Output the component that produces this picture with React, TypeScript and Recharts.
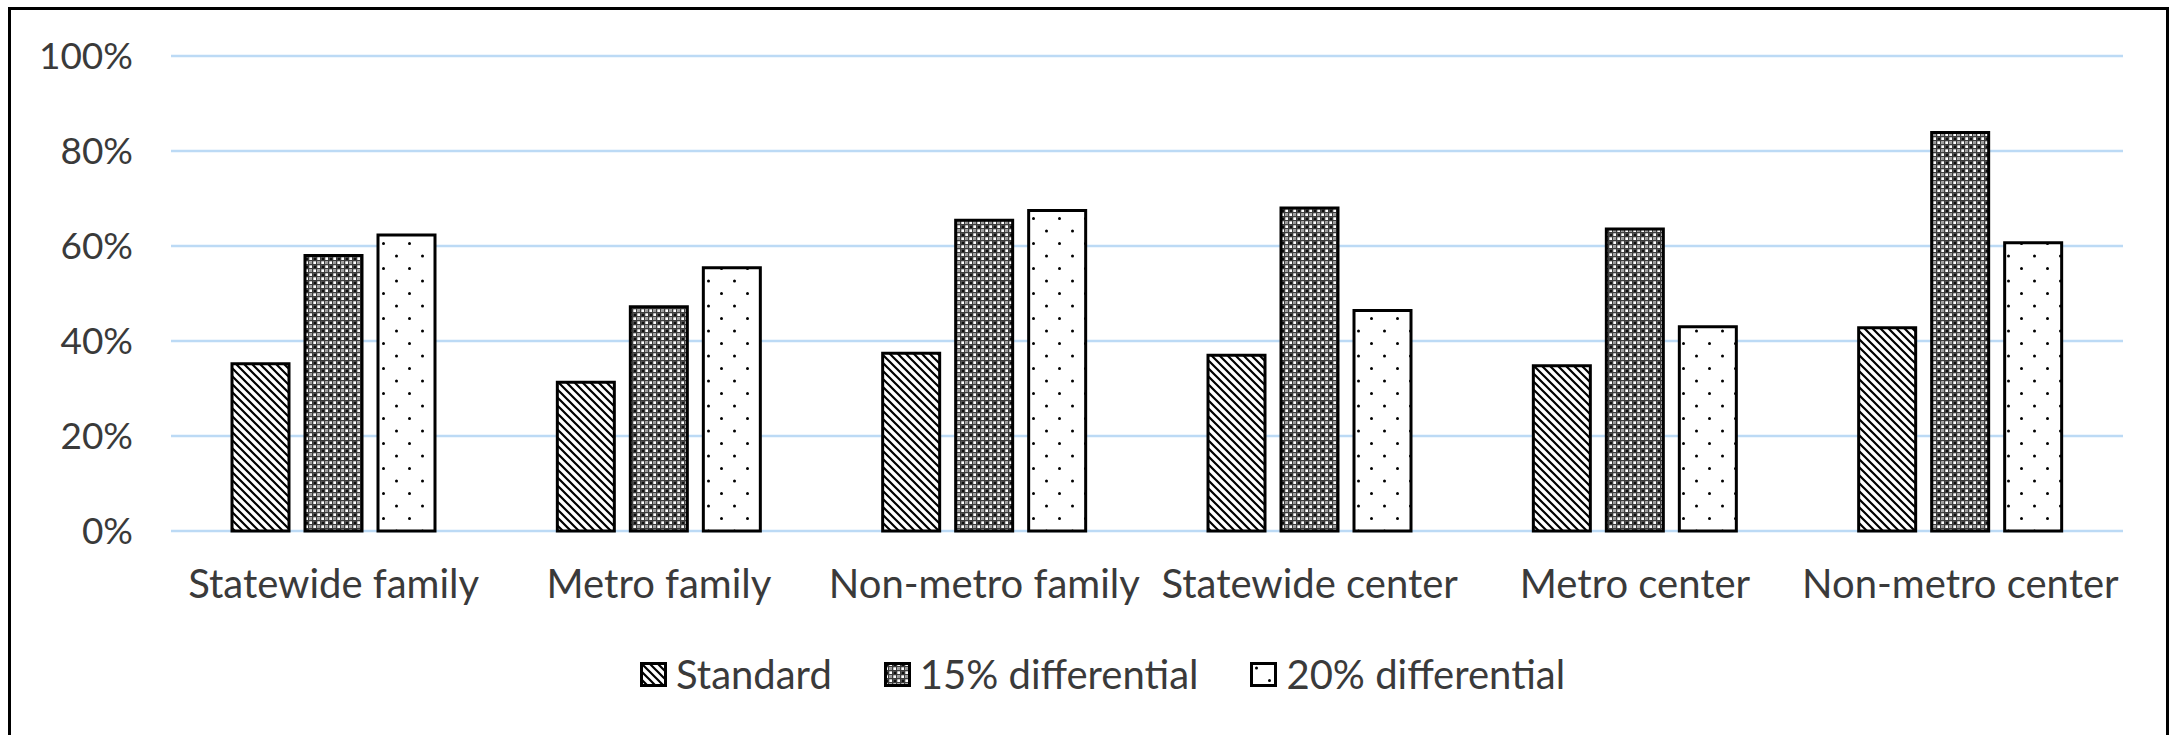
import React from "react"
import { BarChart, Bar, XAxis, YAxis, CartesianGrid, Legend } from "recharts"

const categories = [
  "Statewide family",
  "Metro family",
  "Non-metro family",
  "Statewide center",
  "Metro center",
  "Non-metro center",
]
const standard = [0.352, 0.313, 0.374, 0.37, 0.348, 0.428]
const diff15 = [0.58, 0.472, 0.654, 0.68, 0.636, 0.839]
const diff20 = [0.623, 0.554, 0.675, 0.464, 0.43, 0.607]
const yTicks = [0, 0.2, 0.4, 0.6, 0.8, 1]

const seriesNames = ["Standard", "15% differential", "20% differential"]
const seriesKeys = ["standard", "diff15", "diff20"]
const patternIds = ["pat-hatch", "pat-grid", "pat-dots"]

const FONT = "Lato, 'Open Sans', sans-serif"
const TEXT = "#3a3a3a"

const data = categories.map((category, i) => ({
  category,
  standard: standard[i],
  diff15: diff15[i],
  diff20: diff20[i],
}))

function renderLegend() {
  return (
    <div style={{ display: "flex", alignItems: "center", fontFamily: FONT, fontSize: 40, color: TEXT, whiteSpace: "nowrap" }}>
      {seriesNames.map((name, i) => (
        <div key={name} style={{ display: "flex", alignItems: "center", marginLeft: i ? 52 : 0 }}>
          <svg width={27} height={25} style={{ display: "block" }}>
            <rect x={1.5} y={1.5} width={24} height={22} fill={`url(#${patternIds[i]})`} stroke="#000" strokeWidth={3} />
          </svg>
          <span style={{ marginLeft: 9 }}>{name}</span>
        </div>
      ))}
    </div>
  )
}

export default function App() {
  return (
    <div style={{ position: "absolute", left: 0, top: 0, width: 2177, height: 735, overflow: "hidden", background: "#fff" }}>
      <div
        style={{
          position: "absolute",
          left: 8,
          top: 7,
          width: 2161,
          height: 800,
          border: "3px solid #000",
          boxSizing: "border-box",
        }}
      />
      <div style={{ position: "absolute", left: 0, top: 0 }}>
        <BarChart
          width={2177}
          height={735}
          data={data}
          margin={{ top: 56, right: 54, left: 0, bottom: 0 }}
          barSize={57}
          barGap={16}
          style={{ fontFamily: FONT }}
        >
          <defs>
            <pattern id="pat-hatch" patternUnits="userSpaceOnUse" width="8" height="8">
              <rect width="8" height="8" fill="#fff" />
              <path d="M-2,-2 L10,10 M-2,6 L2,10 M6,-2 L10,2" stroke="#000" strokeWidth="2.2" />
            </pattern>
            <pattern id="pat-grid" patternUnits="userSpaceOnUse" width="8" height="8">
              <rect width="8" height="8" fill="#fff" />
              <rect x="0" y="0" width="8" height="1.3" fill="#3c3c3c" />
              <rect x="0" y="4" width="8" height="1.3" fill="#3c3c3c" />
              <rect x="0" y="0" width="1.3" height="8" fill="#3c3c3c" />
              <rect x="4" y="0" width="1.3" height="8" fill="#3c3c3c" />
              <rect x="1.3" y="1.3" width="2.7" height="2.7" fill="#111" />
              <rect x="5.3" y="5.3" width="2.7" height="2.7" fill="#999" />
            </pattern>
            <pattern id="pat-dots" patternUnits="userSpaceOnUse" width="26" height="25">
              <rect width="26" height="25" fill="#fff" />
              <circle cx="6.5" cy="6" r="1.5" fill="#000" />
              <circle cx="19.5" cy="18.5" r="1.5" fill="#000" />
            </pattern>
          </defs>
          <CartesianGrid vertical={false} stroke="#bcdaf5" strokeWidth={2.5} />
          <XAxis
            dataKey="category"
            height={204}
            interval={0}
            axisLine={false}
            tickLine={false}
            tickMargin={33}
            tick={{ fontSize: 40, fill: TEXT, fontFamily: FONT }}
          />
          <YAxis
            width={171}
            domain={[0, 1]}
            ticks={yTicks}
            axisLine={false}
            tickLine={false}
            tickMargin={32}
            tickFormatter={(v: number) => `${Math.round(v * 100)}%`}
            tick={{ fontSize: 37, fill: TEXT, fontFamily: FONT }}
          />
          <Legend
            layout="horizontal"
            verticalAlign="middle"
            align="center"
            content={renderLegend}
            wrapperStyle={{ left: 640, top: 650, width: "auto" }}
          />
          {seriesKeys.map((key, i) => (
            <Bar
              key={key}
              dataKey={key}
              name={seriesNames[i]}
              fill={`url(#${patternIds[i]})`}
              stroke="#000"
              strokeWidth={3}
              isAnimationActive={false}
            />
          ))}
        </BarChart>
      </div>
    </div>
  )
}
